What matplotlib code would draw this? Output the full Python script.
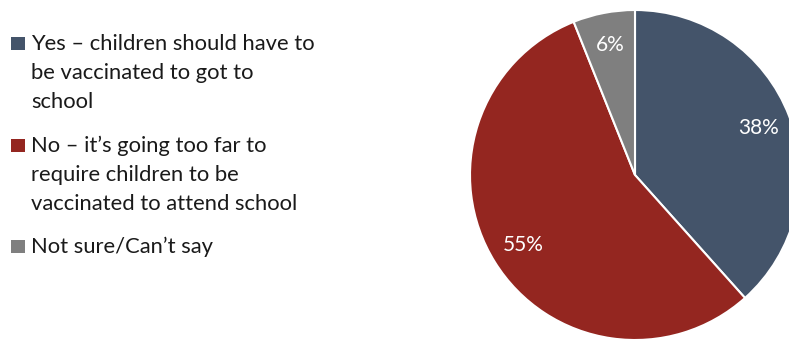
import matplotlib.pyplot as plt
from matplotlib.patches import Rectangle

plt.rcParams['font.family'] = ['Lato', 'DejaVu Sans']

valores = [38, 55, 6]
etiquetas = [['Yes \u2013 children should have to', 'be vaccinated to got to', 'school'],
             ['No \u2013 it\u2019s going too far to', 'require children to be',
              'vaccinated to attend school'],
             ['Not sure/Can\u2019t say']]
colores = ['#44546A', '#942620', '#7F7F7F']

W, H = 789, 341
fig = plt.figure(figsize=(W / 100, H / 100), dpi=100)
ax = fig.add_axes([0, 0, 1, 1])

total = sum(valores)
wedges, textos, pcts = ax.pie(valores, colors=colores, startangle=90, counterclock=False,
                              center=(635, H - 175), radius=165,
                              autopct=lambda p: '{:.0f}%'.format(p * total / 100),
                              pctdistance=0.8,
                              wedgeprops=dict(edgecolor='white', linewidth=1.5))
for t in pcts:
    t.set_color('white')
    t.set_fontsize(15)

ax.set_xlim(0, W)
ax.set_ylim(0, H)
ax.set_aspect('auto')
ax.axis('off')

# leyenda a mano: cuadrado alineado con la primera linea
bases = [50, 152, 253]   # linea base de la primera linea, px desde arriba
paso = 29
for k, lineas in enumerate(etiquetas):
    y0 = bases[k]
    ax.add_patch(Rectangle((11, H - y0), 14, 13, facecolor=colores[k], edgecolor='none'))
    for j, linea in enumerate(lineas):
        ax.text(31, H - (y0 + j * paso), linea, fontsize=15.8, color='#1a1a1a',
                ha='left', va='baseline')

fig.savefig('out.png', dpi=100)
